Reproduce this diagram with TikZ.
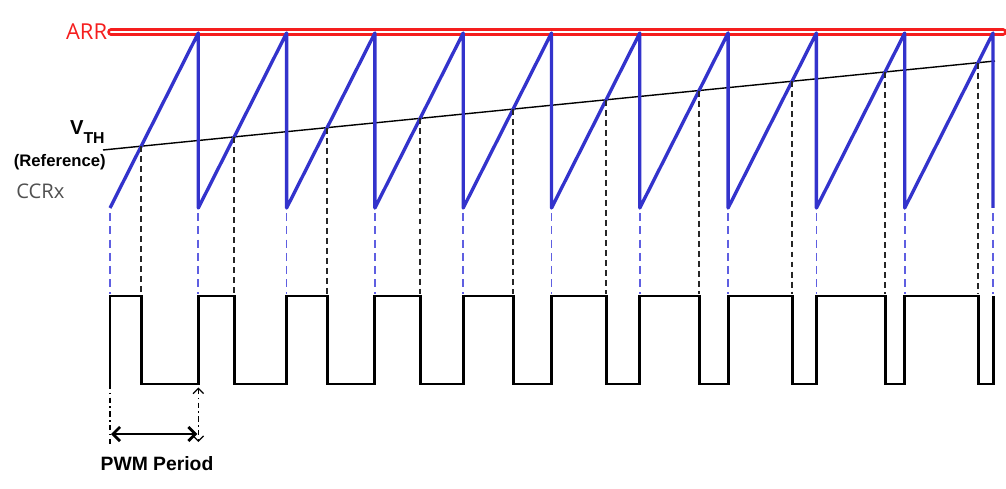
\documentclass[tikz,border=0pt]{standalone}
\usepackage{fontspec}
\setmainfont{Liberation Sans}
\newfontfamily\segoe{Open Sans}
\usepackage{xcolor}
\usetikzlibrary{arrows.meta, calc}

\definecolor{sawblue}{RGB}{51,51,204}
\definecolor{dashblue}{RGB}{95,95,225}
\definecolor{arrred}{RGB}{245,30,30}
\definecolor{ccrgray}{RGB}{80,80,80}

\begin{document}
\begin{tikzpicture}[
    x=0.02cm, y=-0.02cm,
    saw/.style={draw=sawblue, line width=1.9pt, line join=round},
    pwm/.style={draw=black, line width=1.7pt},
    vthline/.style={draw=black, line width=0.8pt},
    arrline/.style={draw=arrred, double=white, line width=1.5pt, double distance=1.3pt, line cap=round},
    blkdash/.style={draw=black!85, line width=1pt, dash pattern=on 3.4pt off 2.3pt},
    bluedash/.style={draw=dashblue, line width=1pt, dash pattern=on 4.5pt off 3pt},
    dashdot/.style={draw=black, line width=0.7pt, dash pattern=on 3pt off 2pt on 0.8pt off 2pt},
    tipthin/.style={{Straight Barb[length=3pt,width=6pt]}-{Straight Barb[length=3pt,width=6pt]}},
    period/.style={{Straight Barb[length=4pt,width=8pt]}-{Straight Barb[length=4pt,width=8pt]}, line width=1.6pt},
    label/.style={inner sep=0pt, font=\bfseries\fontsize{11}{13}\selectfont},
  ]

  \useasboundingbox (0,0) rectangle (1006,489);

  \def\xzero{110} \def\per{88.3} \def\ytop{33} \def\ybot{208}
  \def\phigh{296} \def\plow{384}

  % ARR and reference line
  \coordinate (arrL) at (111,32);
  \coordinate (arrR) at (1003,32);
  \draw[arrline] (arrL) -- (arrR);
  \node[font=\segoe\fontsize{12.5}{14}\selectfont, text=arrred, anchor=east, inner sep=2pt] (arr) at (arrL) {ARR};

  \coordinate (vthL) at (103,150);
  \coordinate (vthR) at (995,61);
  \draw[vthline] (vthL) -- (vthR);

  \node[label, font=\bfseries\fontsize{11.5}{13}\selectfont, anchor=base east] (vth) at (105,135) {V\raisebox{-5pt}{\fontsize{9}{10}\selectfont TH}};
  \node[label, font=\bfseries\fontsize{9.5}{11}\selectfont, anchor=base east] (ref) at (106,167) {(Reference)};
  \node[font=\segoe\fontsize{11.5}{13}\selectfont, text=ccrgray, anchor=base west, inner sep=0pt] (ccr) at (16,199) {CCRx};

  % points of the carrier and the comparator output
  \foreach \k in {0,...,10} {
    \pgfmathsetmacro{\xa}{\xzero+\k*\per}
    \coordinate (sb\k) at (\xa,\ybot);
    \coordinate (rt\k) at (\xa,\phigh);
    \coordinate (rb\k) at (\xa,\plow);
  }
  \foreach \k in {0,...,9} {
    \pgfmathsetmacro{\xa}{\xzero+\k*\per}
    \pgfmathsetmacro{\s}{89/892}
    \pgfmathsetmacro{\t}{(58+\s*(\xa-103))/(175-\s*\per)}
    \pgfmathsetmacro{\xc}{\xa+\t*\per}
    \coordinate (cross\k) at (\xc,{\ybot-175*\t});
    \coordinate (fh\k) at (\xc,\phigh);
    \coordinate (fl\k) at (\xc,\plow);
  }

  % sawtooth
  \draw[saw] (sb0) foreach \k in {1,...,10} { -- ({\xzero+\k*\per},\ytop) -- (sb\k) };

  % projections
  \foreach \k in {0,...,10}
    \draw[bluedash, shorten <=3pt, shorten >=1pt] (sb\k) -- (rt\k);
  \foreach \k in {0,...,9}
    \draw[blkdash, shorten >=1pt] (cross\k) -- (fh\k);

  % PWM output
  \draw[pwm] (rb0) -- (rt0) foreach \k [remember=\k as \j (initially 0)] in {1,...,10} { -- (fh\j) -- (fl\j) -- (rb\k) -- (rt\k) };

  % period
  \coordinate (pl) at ($(rb0)+(0,62)$);
  \coordinate (pr) at ($(rb1)+(0,58)$);
  \draw[dashdot] (rb0) -- (pl);
  \draw[dashdot, tipthin, shorten <=2pt] (rb1) -- (pr);
  \coordinate (pa) at ($(rb0)+(1,50)$);
  \coordinate (pb) at ($(rb1)+(-1,50)$);
  \draw[period] (pa) -- (pb);
  \node[label, anchor=base] (pwmlabel) at (157,470) {PWM Period};

\end{tikzpicture}
\end{document}
